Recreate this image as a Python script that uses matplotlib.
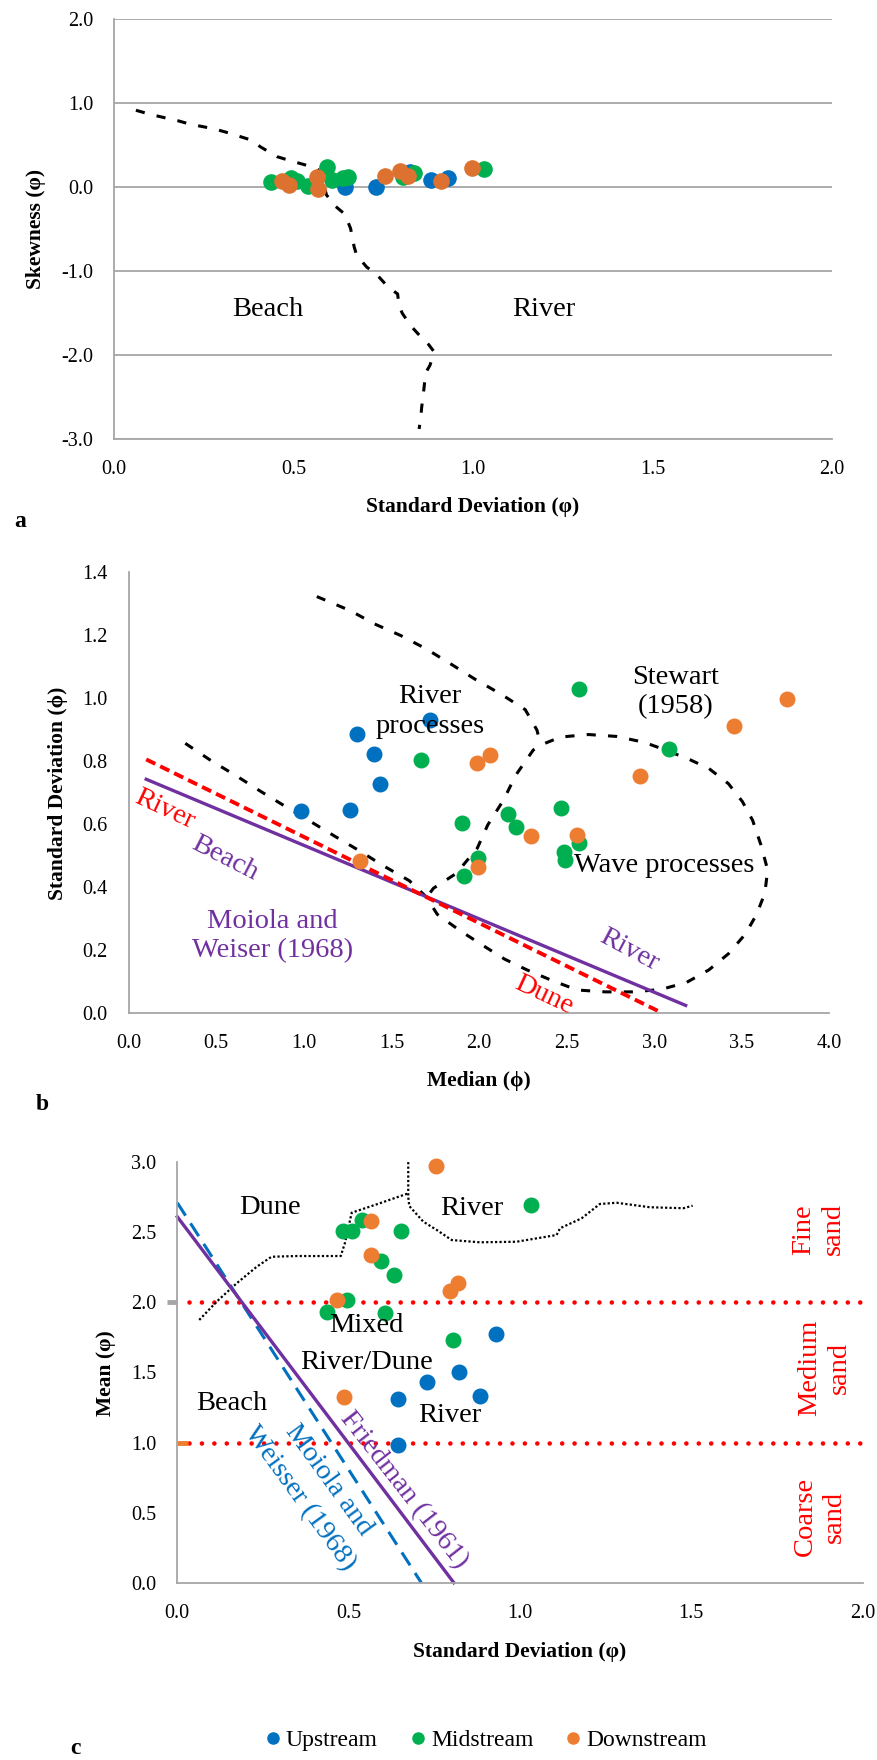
import matplotlib
matplotlib.use('Agg')
import matplotlib.pyplot as plt
from matplotlib.lines import Line2D
from matplotlib.ticker import FormatStrFormatter

plt.rcParams['font.family'] = ['Liberation Serif', 'DejaVu Serif']
plt.rcParams['axes.unicode_minus'] = False

W, H = 878, 1760

BLUE = '#0070C0'
GREEN = '#00B050'
ORANGE = '#ED7D31'
ORANGE_A = '#DD7230'
PURPLE = '#7030A0'
RED = '#FF0000'
GREY = '#A6A6A6'

# --- panel a: standard deviation vs skewness
a_up_sd = [0.645, 0.643, 0.730, 0.825, 0.883, 0.931]
a_up_sk = [0.10, 0.00, 0.00, 0.186, 0.087, 0.110]
a_mid_sd = [0.436, 0.493, 0.494, 0.511, 0.541, 0.593, 0.608, 0.637, 0.653, 0.804, 0.837, 1.031]
a_mid_sk = [0.067, 0.107, 0.100, 0.079, 0.015, 0.245, 0.087, 0.110, 0.126, 0.118, 0.167, 0.214]
a_down_sd = [0.467, 0.487, 0.566, 0.567, 0.754, 0.797, 0.820, 0.912, 0.996]
a_down_sk = [0.075, 0.027, 0.126, -0.020, 0.135, 0.198, 0.135, 0.075, 0.226]

a_curve_sd = [0.061, 0.103, 0.181, 0.212, 0.279, 0.321, 0.384, 0.407, 0.454, 0.493,
              0.564, 0.574, 0.592, 0.618, 0.643, 0.659, 0.669, 0.676, 0.704, 0.730,
              0.762, 0.790, 0.794, 0.803, 0.827, 0.846, 0.876, 0.892, 0.880, 0.868,
              0.864, 0.862, 0.857, 0.855, 0.850]
a_curve_sk = [0.917, 0.866, 0.789, 0.751, 0.696, 0.645, 0.560, 0.484, 0.365, 0.314,
              0.229, 0.186, -0.092, -0.23, -0.32, -0.49, -0.71, -0.81, -0.95, -1.03,
              -1.18, -1.27, -1.41, -1.50, -1.65, -1.74, -1.87, -1.96, -2.12, -2.21,
              -2.37, -2.45, -2.62, -2.72, -2.877]

# --- panel b: median vs standard deviation
b_up_med = [0.985, 1.263, 1.303, 1.402, 1.434, 1.720]
b_up_sd = [0.642, 0.644, 0.886, 0.823, 0.729, 0.931]
b_mid_med = [1.670, 1.904, 1.994, 1.914, 2.167, 2.209, 2.570, 3.084, 2.466, 2.572, 2.486, 2.490]
b_mid_sd = [0.804, 0.605, 0.494, 0.436, 0.633, 0.593, 1.030, 0.838, 0.653, 0.540, 0.513, 0.487]
b_down_med = [1.318, 1.988, 2.064, 1.994, 2.298, 2.561, 2.920, 3.455, 3.759]
b_down_sd = [0.483, 0.796, 0.819, 0.465, 0.564, 0.566, 0.753, 0.912, 0.997]

b_moiola_med = [0.10, 3.18]
b_moiola_sd = [0.743, 0.025]
b_friedman_med = [0.10, 3.02]
b_friedman_sd = [0.806, 0.008]

b_upper_med = [1.074, 1.266, 1.404, 1.554, 1.698, 1.842, 1.979, 2.129, 2.264, 2.331, 2.337]
b_upper_sd = [1.323, 1.278, 1.236, 1.199, 1.157, 1.108, 1.060, 1.012, 0.964, 0.899, 0.885]
b_loop_med = [0.323, 0.476, 0.611, 0.755, 0.882, 1.026, 1.177, 1.314, 1.452, 1.602, 1.698,
              1.762, 1.890, 2.018, 2.146, 2.273, 2.417, 2.561, 2.721, 2.881, 3.041, 3.185,
              3.313, 3.424, 3.520, 3.584, 3.632, 3.648, 3.610, 3.562, 3.504, 3.424, 3.313,
              3.201, 3.073, 2.945, 2.785, 2.625, 2.465, 2.376, 2.31, 2.21, 2.14, 2.05,
              1.99, 1.87, 1.74, 1.69]
b_loop_sd = [0.857, 0.800, 0.755, 0.704, 0.661, 0.613, 0.562, 0.517, 0.469, 0.421, 0.370,
             0.314, 0.263, 0.217, 0.172, 0.138, 0.104, 0.074, 0.068, 0.068, 0.076, 0.098,
             0.138, 0.189, 0.251, 0.313, 0.381, 0.455, 0.534, 0.613, 0.672, 0.729, 0.777,
             0.806, 0.834, 0.860, 0.879, 0.885, 0.877, 0.857, 0.836, 0.756, 0.677, 0.598,
             0.524, 0.444, 0.397, 0.360]

# --- panel c: standard deviation vs mean
c_up_sd = [0.930, 0.823, 0.730, 0.645, 0.883, 0.643]
c_up_mean = [1.774, 1.505, 1.434, 1.310, 1.332, 0.982]
c_mid_sd = [0.485, 0.509, 0.540, 0.653, 0.594, 0.633, 0.494, 0.436, 0.607, 0.804, 1.031]
c_mid_mean = [2.511, 2.511, 2.587, 2.511, 2.295, 2.195, 2.016, 1.933, 1.921, 1.731, 2.694]
c_down_sd = [0.755, 0.566, 0.566, 0.465, 0.796, 0.820, 0.486]
c_down_mean = [2.975, 2.582, 2.335, 2.014, 2.081, 2.136, 1.327]

c_friedman_sd = [0.0, 0.807]
c_friedman_mean = [2.61, 0.0]
c_moiola_sd = [0.0, 0.712]
c_moiola_mean = [2.71, 0.0]
c_sand_limits = [2.0, 1.0]

c_dune_sd = [0.064, 0.115, 0.173, 0.232, 0.275, 0.348, 0.477, 0.489, 0.509, 0.582, 0.674]
c_dune_mean = [1.874, 2.005, 2.135, 2.254, 2.325, 2.330, 2.330, 2.421, 2.639, 2.699, 2.777]
c_river_sd = [0.674, 0.674, 0.677, 0.718, 0.757, 0.801, 0.883, 0.990, 1.107, 1.117, 1.180,
              1.233, 1.282, 1.379, 1.477, 1.504]
c_river_mean = [3.0, 2.75, 2.687, 2.575, 2.516, 2.444, 2.428, 2.432, 2.480, 2.528, 2.599,
                2.701, 2.710, 2.678, 2.671, 2.689]

legend_labels = ['Upstream', 'Midstream', 'Downstream']


def box(left, top, right, bottom):
    return [left / W, 1 - bottom / H, (right - left) / W, (bottom - top) / H]


def fx(x):
    return x / W


def fy(y):
    return 1 - y / H


def style_axes(ax):
    for side in ('top', 'right'):
        ax.spines[side].set_visible(False)
    for side in ('left', 'bottom'):
        ax.spines[side].set_color(GREY)
        ax.spines[side].set_linewidth(1.3)
    ax.tick_params(length=0, pad=15, labelsize=14.5)
    ax.xaxis.set_major_formatter(FormatStrFormatter('%.1f'))
    ax.yaxis.set_major_formatter(FormatStrFormatter('%.1f'))


BIG = 20.5
LAB = 15.5
black_dash = dict(color='black', lw=2.2, ls=(0, (3, 4)))

fig = plt.figure(figsize=(W / 100, H / 100), dpi=100)

# ---------------- a
ax = fig.add_axes(box(114, 19.3, 832, 439.3))
style_axes(ax)
ax.set_xlim(0, 2)
ax.set_ylim(-3, 2)
ax.set_xticks([0, 0.5, 1.0, 1.5, 2.0])
ax.set_yticks([-3, -2, -1, 0, 1, 2])
ax.yaxis.grid(True, color=GREY, lw=1.3)
ax.set_axisbelow(True)
ax.plot(a_curve_sd, a_curve_sk, **black_dash)
ax.scatter(a_up_sd, a_up_sk, s=120, color=BLUE, zorder=3, clip_on=False)
ax.scatter(a_mid_sd, a_mid_sk, s=120, color=GREEN, zorder=3, clip_on=False)
ax.scatter(a_down_sd, a_down_sk, s=120, color=ORANGE_A, zorder=3, clip_on=False)
ax.text(0.428, -1.46, 'Beach', fontsize=BIG, ha='center', va='center')
ax.text(1.196, -1.46, 'River', fontsize=BIG, ha='center', va='center')

fig.text(fx(36), fy(229), 'Skewness (φ)', rotation=90, ha='center', va='center',
         fontsize=LAB, fontweight='bold')
fig.text(fx(473), fy(507), 'Standard Deviation (φ)', ha='center', va='center',
         fontsize=LAB, fontweight='bold')
fig.text(fx(14), fy(527), 'a', ha='left', va='baseline', fontsize=17, fontweight='bold')

# ---------------- b
ax = fig.add_axes(box(128.7, 572.3, 829.3, 1013.3))
style_axes(ax)
ax.set_xlim(0, 4)
ax.set_ylim(0, 1.4)
ax.set_xticks([0, 0.5, 1.0, 1.5, 2.0, 2.5, 3.0, 3.5, 4.0])
ax.set_yticks([0, 0.2, 0.4, 0.6, 0.8, 1.0, 1.2, 1.4])
ax.plot(b_upper_med, b_upper_sd, **black_dash)
ax.plot(b_loop_med, b_loop_sd, **black_dash)
ax.plot(b_moiola_med, b_moiola_sd, color=PURPLE, lw=2.4)
ax.plot(b_friedman_med, b_friedman_sd, color=RED, lw=2.8, ls=(0, (2.6, 1.4)))
ax.scatter(b_up_med, b_up_sd, s=110, color=BLUE, zorder=3, clip_on=False)
ax.scatter(b_mid_med, b_mid_sd, s=110, color=GREEN, zorder=3, clip_on=False)
ax.scatter(b_down_med, b_down_sd, s=110, color=ORANGE, zorder=3, clip_on=False)

ax.text(1.72, 0.957, 'River\nprocesses', fontsize=BIG, ha='center', va='center',
        linespacing=1.25)
ax.text(3.12, 1.02, 'Stewart\n(1958)', fontsize=BIG, ha='center', va='center',
        linespacing=1.25)
ax.text(3.06, 0.469, 'Wave processes', fontsize=BIG, ha='center', va='center')
ax.text(0.82, 0.245, 'Moiola and\nWeiser (1968)', fontsize=BIG, ha='center',
        va='center', color=PURPLE, linespacing=1.25)
ax.text(0.205, 0.647, 'River', fontsize=BIG, color=RED, rotation=-25,
        ha='center', va='center', rotation_mode='anchor')
ax.text(0.547, 0.491, 'Beach', fontsize=BIG, color=PURPLE, rotation=-27,
        ha='center', va='center', rotation_mode='anchor')
ax.text(2.855, 0.200, 'River', fontsize=BIG, color=PURPLE, rotation=-28,
        ha='center', va='center', rotation_mode='anchor')
ax.text(2.37, 0.059, 'Dune', fontsize=BIG, color=RED, rotation=-25,
        ha='center', va='center', rotation_mode='anchor')

fig.text(fx(58), fy(793), 'Standard Deviation (ϕ)', rotation=90, ha='center',
         va='center', fontsize=LAB, fontweight='bold')
fig.text(fx(479), fy(1081), 'Median (ϕ)', ha='center', va='center',
         fontsize=LAB, fontweight='bold')
fig.text(fx(36), fy(1110), 'b', ha='left', va='baseline', fontsize=17, fontweight='bold')

# ---------------- c
ax = fig.add_axes(box(177.3, 1162.1, 862.6, 1582.7))
style_axes(ax)
ax.set_xlim(0, 2)
ax.set_ylim(0, 3)
ax.set_xticks([0, 0.5, 1.0, 1.5, 2.0])
ax.set_yticks([0, 0.5, 1.0, 1.5, 2.0, 2.5, 3.0])
for limit in c_sand_limits:
    ax.plot([0.035, 2.0], [limit, limit], color=RED, lw=3.3, ls=(0, (0.01, 2.7)),
            dash_capstyle='round', clip_on=False)
# short stubs left over from the spreadsheet legend
ax.plot([-0.03, 0.0], [c_sand_limits[0]] * 2, color=GREY, lw=3.5, clip_on=False,
        solid_capstyle='butt')
ax.plot([0.0, 0.03], [c_sand_limits[1]] * 2, color=ORANGE, lw=3.5, clip_on=False,
        solid_capstyle='butt')
ax.plot(c_dune_sd, c_dune_mean, color='black', lw=1.6, ls=(0, (1, 1)))
ax.plot(c_river_sd, c_river_mean, color='black', lw=1.6, ls=(0, (1, 1)), clip_on=False)
ax.plot(c_moiola_sd, c_moiola_mean, color=BLUE, lw=2.2, ls=(0, (5, 3)), clip_on=False)
ax.plot(c_friedman_sd, c_friedman_mean, color=PURPLE, lw=2.4, clip_on=False)
ax.scatter(c_up_sd, c_up_mean, s=110, color=BLUE, zorder=3, clip_on=False)
ax.scatter(c_mid_sd, c_mid_mean, s=110, color=GREEN, zorder=3, clip_on=False)
ax.scatter(c_down_sd, c_down_mean, s=110, color=ORANGE, zorder=3, clip_on=False)

ax.text(0.27, 2.678, 'Dune', fontsize=BIG, ha='center', va='center')
ax.text(0.859, 2.67, 'River', fontsize=BIG, ha='center', va='center')
ax.text(0.553, 1.831, 'Mixed', fontsize=BIG, ha='center', va='center')
ax.text(0.553, 1.569, 'River/Dune', fontsize=BIG, ha='center', va='center')
ax.text(0.159, 1.275, 'Beach', fontsize=BIG, ha='center', va='center')
ax.text(0.794, 1.191, 'River', fontsize=BIG, ha='center', va='center')
ax.text(0.66, 0.661, 'Friedman (1961)', fontsize=BIG, color=PURPLE, rotation=-52,
        ha='center', va='center', rotation_mode='anchor')
ax.text(0.441, 0.733, 'Moiola and', fontsize=BIG, color=BLUE, rotation=-54,
        ha='center', va='center', rotation_mode='anchor')
ax.text(0.358, 0.602, 'Weisser (1968)', fontsize=BIG, color=BLUE, rotation=-54,
        ha='center', va='center', rotation_mode='anchor')
ax.text(1.87, 2.52, 'Fine\nsand', fontsize=BIG, color=RED, rotation=90,
        ha='center', va='center', linespacing=1.25)
ax.text(1.89, 1.53, 'Medium\nsand', fontsize=BIG, color=RED, rotation=90,
        ha='center', va='center', linespacing=1.25)
ax.text(1.875, 0.471, 'Coarse\nsand', fontsize=BIG, color=RED, rotation=90,
        ha='center', va='center', linespacing=1.25)

fig.text(fx(106), fy(1372.8), 'Mean (φ)', rotation=90, ha='center', va='center',
         fontsize=LAB, fontweight='bold')
fig.text(fx(520), fy(1651.6), 'Standard Deviation (φ)', ha='center', va='center',
         fontsize=LAB, fontweight='bold')
fig.text(fx(70), fy(1754), 'c', ha='left', va='baseline', fontsize=17, fontweight='bold')

handles = [Line2D([0], [0], marker='o', ls='none', color=c, markersize=8)
           for c in (BLUE, GREEN, ORANGE)]
fig.legend(handles, legend_labels, loc='center', bbox_to_anchor=(fx(484), fy(1740)),
           ncol=3, frameon=False, fontsize=17, handletextpad=0.05,
           columnspacing=1.2, handlelength=1.0)

fig.savefig('out.png', dpi=100)
